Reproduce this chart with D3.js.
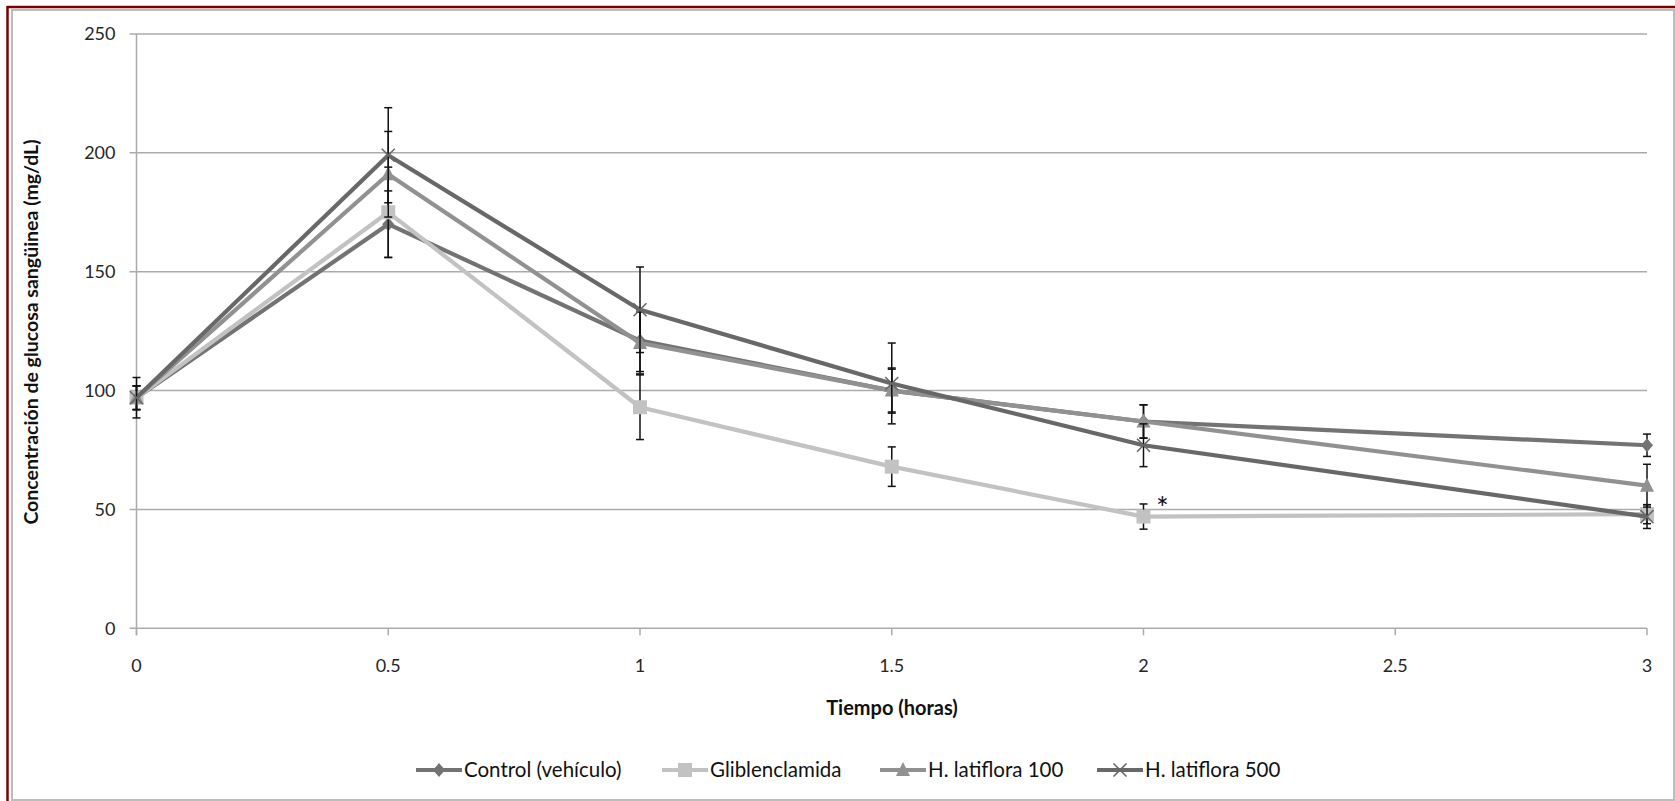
<!DOCTYPE html>
<html>
<head>
<meta charset="utf-8">
<script src="https://cdn.jsdelivr.net/npm/d3@7"></script>
<style>
    html, body { margin: 0; padding: 0; background: #fff; }
    svg { display: block; font-family: Lato, "Open Sans", sans-serif; }
    .tick-label { font-size: 18px; fill: #262626; }
    .axis-title { font-weight: bold; fill: #111; }
    .legend-label { font-size: 20.5px; fill: #111; }
</style>
</head>
<body>
<div id="chart"></div>
<script>
(function () {
    "use strict";

    // Data (mean +/- error, mg/dL)
    const times = [0, 0.5, 1, 1.5, 2, 3];
    const seriesNames = ["Control (vehículo)", "Gliblenclamida", "H. latiflora 100", "H. latiflora 500"];
    const controlMean = [97, 170, 121, 100, 87, 77];
    const controlErr = [8.5, 14, 13, 9.5, 7, 4.7];
    const glibMean = [97, 175, 93, 68, 47, 48];
    const glibErr = [5, 19, 13.6, 8.3, 5.3, 4];
    const h100Mean = [97, 191, 120, 100, 87, 60];
    const h100Err = [5, 18, 13, 9, 7, 9];
    const h500Mean = [97, 199, 134, 103, 77, 47];
    const h500Err = [5, 20, 18, 17, 9, 5];
    const xTicks = [0, 0.5, 1, 1.5, 2, 2.5, 3];
    const yTicks = [0, 50, 100, 150, 200, 250];

    const width = 1675;
    const height = 801;

    const series = [
        { name: seriesNames[0], mean: controlMean, err: controlErr, color: "#737373", marker: "diamond" },
        { name: seriesNames[1], mean: glibMean, err: glibErr, color: "#c2c2c2", marker: "square" },
        { name: seriesNames[2], mean: h100Mean, err: h100Err, color: "#919191", marker: "triangle" },
        { name: seriesNames[3], mean: h500Mean, err: h500Err, color: "#686868", marker: "cross" }
    ].map((s) => ({ ...s, points: times.map((t, i) => ({ t: t, v: s.mean[i], e: s.err[i] })) }));

    const x = d3.scaleLinear().domain([0, 3]).range([136.5, 1647]);
    const y = d3.scaleLinear().domain([0, 250]).range([628.3, 34]);

    const svg = d3.select("#chart")
        .append("svg")
        .attr("width", width)
        .attr("height", height);

    // outer frame: grey chart border and the dark red page rule
    svg.append("rect")
        .attr("x", 12).attr("y", 10)
        .attr("width", 1662).attr("height", 790)
        .attr("fill", "#fff")
        .attr("stroke", "#bdbdbd")
        .attr("stroke-width", 2);
    svg.append("line")
        .attr("x1", 7).attr("x2", width).attr("y1", 7).attr("y2", 7)
        .attr("stroke", "#7d0000").attr("stroke-width", 2.5);
    svg.append("line")
        .attr("x1", 7.5).attr("x2", 7.5).attr("y1", 6).attr("y2", height)
        .attr("stroke", "#7d0000").attr("stroke-width", 2.5);

    // gridlines + y ticks
    const yAxis = svg.append("g");
    yAxis.selectAll("line.grid")
        .data(yTicks)
        .join("line")
        .attr("class", "grid")
        .attr("x1", x(0) - 7)
        .attr("x2", x(3))
        .attr("y1", (d) => y(d))
        .attr("y2", (d) => y(d))
        .attr("stroke", "#ababab")
        .attr("stroke-width", 1.5);
    yAxis.selectAll("text")
        .data(yTicks)
        .join("text")
        .attr("class", "tick-label")
        .attr("x", x(0) - 21)
        .attr("y", (d) => y(d))
        .attr("dy", "0.35em")
        .attr("text-anchor", "end")
        .text((d) => d);

    svg.append("line")
        .attr("x1", x(0)).attr("x2", x(0))
        .attr("y1", y(250)).attr("y2", y(0) + 7)
        .attr("stroke", "#ababab").attr("stroke-width", 1.5);

    const xAxis = svg.append("g");
    xAxis.selectAll("line")
        .data(xTicks)
        .join("line")
        .attr("x1", (d) => x(d))
        .attr("x2", (d) => x(d))
        .attr("y1", y(0))
        .attr("y2", y(0) + 7)
        .attr("stroke", "#ababab")
        .attr("stroke-width", 1.5);
    xAxis.selectAll("text")
        .data(xTicks)
        .join("text")
        .attr("class", "tick-label")
        .attr("x", (d) => x(d))
        .attr("y", 665.5)
        .attr("dy", "0.35em")
        .attr("text-anchor", "middle")
        .text((d) => d);

    // axis titles
    svg.append("text")
        .attr("class", "axis-title")
        .style("font-size", "19.5px")
        .attr("transform", "translate(31,332) rotate(-90)")
        .attr("text-anchor", "middle")
        .attr("dy", "0.35em")
        .text("Concentración de glucosa sangüinea (mg/dL)");
    svg.append("text")
        .attr("class", "axis-title")
        .style("font-size", "20px")
        .attr("x", 892)
        .attr("y", 708)
        .attr("dy", "0.35em")
        .attr("text-anchor", "middle")
        .text("Tiempo (horas)");

    function drawMarker(g, type, color, cx, cy) {
        if (type === "diamond") {
            g.append("path")
                .attr("d", `M${cx},${cy - 7}L${cx + 6},${cy}L${cx},${cy + 7}L${cx - 6},${cy}Z`)
                .attr("fill", color);
        } else if (type === "square") {
            g.append("rect")
                .attr("x", cx - 7).attr("y", cy - 7)
                .attr("width", 14).attr("height", 14)
                .attr("fill", color);
        } else if (type === "triangle") {
            g.append("path")
                .attr("d", `M${cx},${cy - 8}L${cx + 7},${cy + 6}L${cx - 7},${cy + 6}Z`)
                .attr("fill", color);
        } else {
            g.append("path")
                .attr("d", `M${cx - 6.5},${cy - 6.5}L${cx + 6.5},${cy + 6.5}M${cx - 6.5},${cy + 6.5}L${cx + 6.5},${cy - 6.5}`)
                .attr("stroke", color)
                .attr("stroke-width", 1.6)
                .attr("fill", "none");
        }
    }

    const line = d3.line().x((d) => x(d.t)).y((d) => y(d.v));

    const plot = svg.append("g");
    series.forEach((s) => {
        const g = plot.append("g");
        g.append("path")
            .datum(s.points)
            .attr("d", line)
            .attr("fill", "none")
            .attr("stroke", s.color)
            .attr("stroke-width", 4.2)
            .attr("stroke-linejoin", "round");

        const bars = g.selectAll("g.err")
            .data(s.points)
            .join("g")
            .attr("class", "err")
            .attr("stroke", "#111")
            .attr("stroke-width", 1.5);
        bars.append("line")
            .attr("x1", (d) => x(d.t)).attr("x2", (d) => x(d.t))
            .attr("y1", (d) => y(d.v + d.e)).attr("y2", (d) => y(d.v - d.e));
        bars.append("line")
            .attr("x1", (d) => x(d.t) - 4).attr("x2", (d) => x(d.t) + 4)
            .attr("y1", (d) => y(d.v + d.e)).attr("y2", (d) => y(d.v + d.e));
        bars.append("line")
            .attr("x1", (d) => x(d.t) - 4).attr("x2", (d) => x(d.t) + 4)
            .attr("y1", (d) => y(d.v - d.e)).attr("y2", (d) => y(d.v - d.e));

        s.points.forEach((d) => drawMarker(g, s.marker, s.color, x(d.t), y(d.v)));
    });

    // significance mark on Gliblenclamida at 2 h
    svg.append("text")
        .attr("x", x(2) + 19)
        .attr("y", y(glibMean[4]) + 2)
        .attr("text-anchor", "middle")
        .style("font-size", "30px")
        .attr("fill", "#111")
        .text("*");

    // legend
    const legendX = [416, 662, 880, 1097];
    const legend = svg.append("g");
    series.forEach((s, i) => {
        const g = legend.append("g").attr("transform", `translate(${legendX[i]},770)`);
        g.append("line")
            .attr("x1", 0).attr("x2", 46)
            .attr("stroke", s.color)
            .attr("stroke-width", 4.2);
        drawMarker(g, s.marker, s.color, 23, 0);
        g.append("text")
            .attr("class", "legend-label")
            .attr("x", 48)
            .attr("dy", "0.35em")
            .text(s.name);
    });
}());
</script>
</body>
</html>
